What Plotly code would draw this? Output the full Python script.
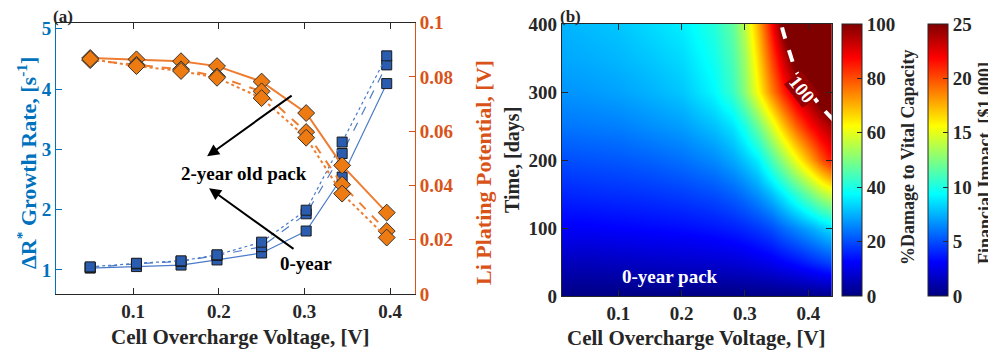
import plotly.graph_objects as go

FONT = "Liberation Serif"
DARK = "#262626"
BLUE = "#0072BD"
ORANGE = "#D95319"

# ---------------- Panel (a) data ----------------
voltage = [0.05, 0.104, 0.156, 0.198, 0.25, 0.302, 0.344, 0.396]
growth_0yr = [1.03, 1.055, 1.08, 1.165, 1.28, 1.645, 2.54, 4.09]
growth_1yr = [1.04, 1.10, 1.14, 1.24, 1.385, 1.93, 2.93, 4.40]
growth_2yr = [1.05, 1.11, 1.15, 1.25, 1.46, 1.99, 3.12, 4.55]
plating_0yr = [0.0870, 0.0865, 0.0858, 0.0840, 0.0783, 0.0667, 0.0474, 0.0300]
plating_1yr = [0.0862, 0.0845, 0.0828, 0.0802, 0.0747, 0.0597, 0.0403, 0.0232]
plating_2yr = [0.0866, 0.0840, 0.0822, 0.0797, 0.0722, 0.0576, 0.0370, 0.0208]

# ---------------- Panel (b) data ----------------
grid_voltage = [0.01, 0.05, 0.10, 0.15, 0.20, 0.25, 0.28, 0.30, 0.32, 0.34, 0.36, 0.38, 0.40, 0.42, 0.44]
grid_days = [0, 50, 100, 150, 200, 250, 300, 350, 400]
damage_pct = [
    [0.3, 0.3, 0.3, 0.3, 0.3, 0.3, 0.3, 0.4, 0.4, 0.5, 0.5, 0.6, 0.7, 0.8, 1.0],
    [6, 6, 6.5, 7, 7.5, 8, 8.5, 9, 10, 11, 12.5, 14, 16, 18, 20],
    [12, 12, 12.5, 13, 13.5, 14.5, 15.5, 16.5, 18, 20, 23, 26, 29, 32, 35],
    [16, 16.5, 17, 17.5, 18.5, 20, 22, 24, 27, 31, 36, 42, 48, 54, 59],
    [20, 20.5, 21, 22, 23.5, 26, 29, 32, 36, 44, 52, 61, 70, 79, 87],
    [24, 24.5, 25, 26.5, 28, 31.5, 35, 40, 48, 58, 68, 78, 86, 92, 97],
    [27, 27.5, 28.5, 30, 32, 37, 43, 51, 62, 74, 84, 93, 99, 106, 114],
    [29, 29.5, 30.5, 32, 34, 39, 45, 53, 66, 80, 92, 104, 114, 123, 132],
    [30, 31, 32, 34, 36, 41, 47, 56, 70, 86, 102, 115, 127, 138, 148],
]
cost_per_pct = 0.25  # $1,000 per % damage (100 % -> 25)
financial_k = [[v * cost_per_pct for v in row] for row in damage_pct]
contour_level = 100
contour_label_pos = (0.390, 303)  # voltage, days where the "100" label sits

x_ticks = [0.1, 0.2, 0.3, 0.4]
x_ticktext = ["0.1", "0.2", "0.3", "0.4"]
growth_ticks = [1, 2, 3, 4, 5]
plating_ticks = [0, 0.02, 0.04, 0.06, 0.08, 0.1]
plating_ticktext = ["0", "0.02", "0.04", "0.06", "0.08", "0.1"]
day_ticks = [0, 100, 200, 300, 400]
damage_ticks = [0, 20, 40, 60, 80, 100]
financial_ticks = [0, 5, 10, 15, 20, 25]

JET = [[0.0, "rgb(0,0,128)"], [0.125, "rgb(0,0,255)"], [0.375, "rgb(0,255,255)"],
       [0.625, "rgb(255,255,0)"], [0.875, "rgb(255,0,0)"], [1.0, "rgb(128,0,0)"]]

OFF = 8  # page body margin
W, H = 996 - OFF, 356 - OFF
def px(x):
    return (x - OFF) / W
def py(y):
    return 1 - (y - OFF) / H

fig = go.Figure()

blue_line = "#4A7BC8"
blue_fill = "#2A5DB0"
orange_line = "#EE7D31"
orange_fill = "#EE7A12"

for vals, dash in [(growth_0yr, "solid"), (growth_1yr, "dash"), (growth_2yr, "dot")]:
    fig.add_trace(go.Scatter(
        x=voltage, y=vals, mode="lines+markers", xaxis="x", yaxis="y",
        line=dict(color=blue_line, width=1.2, dash=dash),
        marker=dict(symbol="square", size=10, color=blue_fill, line=dict(color="#1a1a1a", width=1)),
        showlegend=False))

for vals, dash in [(plating_0yr, "solid"), (plating_1yr, "dash"), (plating_2yr, "dot")]:
    fig.add_trace(go.Scatter(
        x=voltage, y=vals, mode="lines+markers", xaxis="x", yaxis="y2",
        line=dict(color=orange_line, width=2, dash=dash),
        marker=dict(symbol="diamond", size=13, color=orange_fill, line=dict(color="#333333", width=1)),
        showlegend=False))

tickfont = dict(family=FONT, size=19, color=DARK, weight="bold")

# financial colour scale (drawn underneath, same mapping)
fig.add_trace(go.Heatmap(
    x=grid_voltage, y=grid_days, z=financial_k, xaxis="x2", yaxis="y3",
    zmin=0, zmax=25, colorscale=JET, zsmooth="best",
    colorbar=dict(x=px(927.7), xanchor="left", xpad=0, ypad=0, y=py(160), yanchor="middle",
                  len=272, lenmode="pixels", thickness=20, outlinewidth=1, outlinecolor=DARK,
                  tickvals=financial_ticks, ticks="inside", ticklen=5, tickcolor=DARK,
                  tickfont=tickfont),
    hoverinfo="skip"))

fig.add_trace(go.Heatmap(
    x=grid_voltage, y=grid_days, z=damage_pct, xaxis="x2", yaxis="y3",
    zmin=0, zmax=100, colorscale=JET, zsmooth="best",
    colorbar=dict(x=px(841.7), xanchor="left", xpad=0, ypad=0, y=py(160), yanchor="middle",
                  len=272, lenmode="pixels", thickness=20, outlinewidth=1, outlinecolor=DARK,
                  tickvals=damage_ticks, ticks="inside", ticklen=5, tickcolor=DARK,
                  tickfont=tickfont)))

fig.add_trace(go.Contour(
    x=grid_voltage, y=grid_days, z=damage_pct, xaxis="x2", yaxis="y3",
    contours=dict(start=contour_level, end=contour_level, size=10, coloring="none", showlabels=False),
    line=dict(color="white", width=4, dash="dash", smoothing=1.0),
    showscale=False, hoverinfo="skip"))

axis_common = dict(showgrid=False, zeroline=False, ticks="inside", ticklen=6, showline=True)

fig.update_layout(
    width=W, height=H, margin=dict(l=0, r=0, t=0, b=0, autoexpand=False),
    paper_bgcolor="white", plot_bgcolor="white", showlegend=False,
    font=dict(family=FONT, color=DARK),
    xaxis=dict(domain=[px(56), px(415)], range=[0.0101, 0.429], tickvals=x_ticks, ticktext=x_ticktext,
               linecolor=DARK, tickcolor=DARK, mirror="ticks", tickfont=tickfont, anchor="y", **axis_common),
    yaxis=dict(domain=[py(294), py(22.7)], range=[0.6, 5.1], tickvals=growth_ticks,
               linecolor=BLUE, tickcolor=BLUE, tickfont=dict(tickfont, color=BLUE), anchor="x", **axis_common),
    yaxis2=dict(domain=[py(294), py(22.7)], range=[0, 0.1], tickvals=plating_ticks, ticktext=plating_ticktext,
                overlaying="y", side="right", anchor="x",
                linecolor=ORANGE, tickcolor=ORANGE, tickfont=dict(tickfont, color=ORANGE), **axis_common),
    xaxis2=dict(domain=[px(561.7), px(831.7)], range=[0.0106, 0.437], tickvals=x_ticks, ticktext=x_ticktext,
                linecolor=DARK, tickcolor=DARK, mirror="ticks", tickfont=tickfont, anchor="y3", **axis_common),
    yaxis3=dict(domain=[py(296), py(24)], range=[0, 400], tickvals=day_ticks,
                linecolor=DARK, tickcolor=DARK, mirror="ticks", tickfont=tickfont, anchor="x2", **axis_common),
)

def label(text, x, y, size=21, color=DARK, angle=0):
    fig.add_annotation(text=text, x=px(x), y=py(y), xref="paper", yref="paper", showarrow=False,
                       textangle=angle, xanchor="center", yanchor="middle",
                       font=dict(family=FONT, size=size, color=color, weight="bold"))

label("(a)", 63, 16.5, size=17)
label("(b)", 570, 16.5, size=17)
label("Cell Overcharge Voltage, [V]", 240, 337)
label("Cell Overcharge Voltage, [V]", 696, 338)
label("ΔR<sup>*</sup> Growth Rate, [s<sup>-1</sup>]", 27, 163, size=22, color=BLUE, angle=-90)
label("Li Plating Potential, [V]", 483, 173, size=22, color=ORANGE, angle=-90)
label("Time, [days]", 512, 160, size=20, angle=-90)
label("%Damage to Vital Capacity", 908, 158, size=18, angle=-90)
label("Financial Impact, [$1,000]", 985, 163, size=18, angle=-90)

# contour label
fig.add_annotation(text=str(contour_level), x=contour_label_pos[0], y=contour_label_pos[1],
                   xref="x2", yref="y3", showarrow=False, textangle=52,
                   bgcolor="rgb(150,0,0)", borderpad=0,
                   font=dict(family=FONT, size=19, color="white", weight="bold"))

# arrows and in-plot text (panel a)
fig.add_annotation(x=0.1864, y=2.884, ax=0.2868, ay=3.909, xref="x", yref="y", axref="x", ayref="y",
                   showarrow=True, arrowhead=2, arrowsize=1.2, arrowwidth=2, arrowcolor="black", text="")
fig.add_annotation(x=0.1887, y=2.355, ax=0.289, ay=1.33, xref="x", yref="y", axref="x", ayref="y",
                   showarrow=True, arrowhead=2, arrowsize=1.2, arrowwidth=2, arrowcolor="black", text="")
fig.add_annotation(text="2-year old pack", x=0.229, y=2.60, xref="x", yref="y", showarrow=False,
                   font=dict(family=FONT, size=19, color="black", weight="bold"))
fig.add_annotation(text="0-year", x=0.302, y=1.10, xref="x", yref="y", showarrow=False,
                   font=dict(family=FONT, size=19, color="black", weight="bold"))
fig.add_annotation(text="0-year pack", x=0.182, y=28, xref="x2", yref="y3", showarrow=False,
                   font=dict(family=FONT, size=19, color="white", weight="bold"))

fig.write_html("out.html")
